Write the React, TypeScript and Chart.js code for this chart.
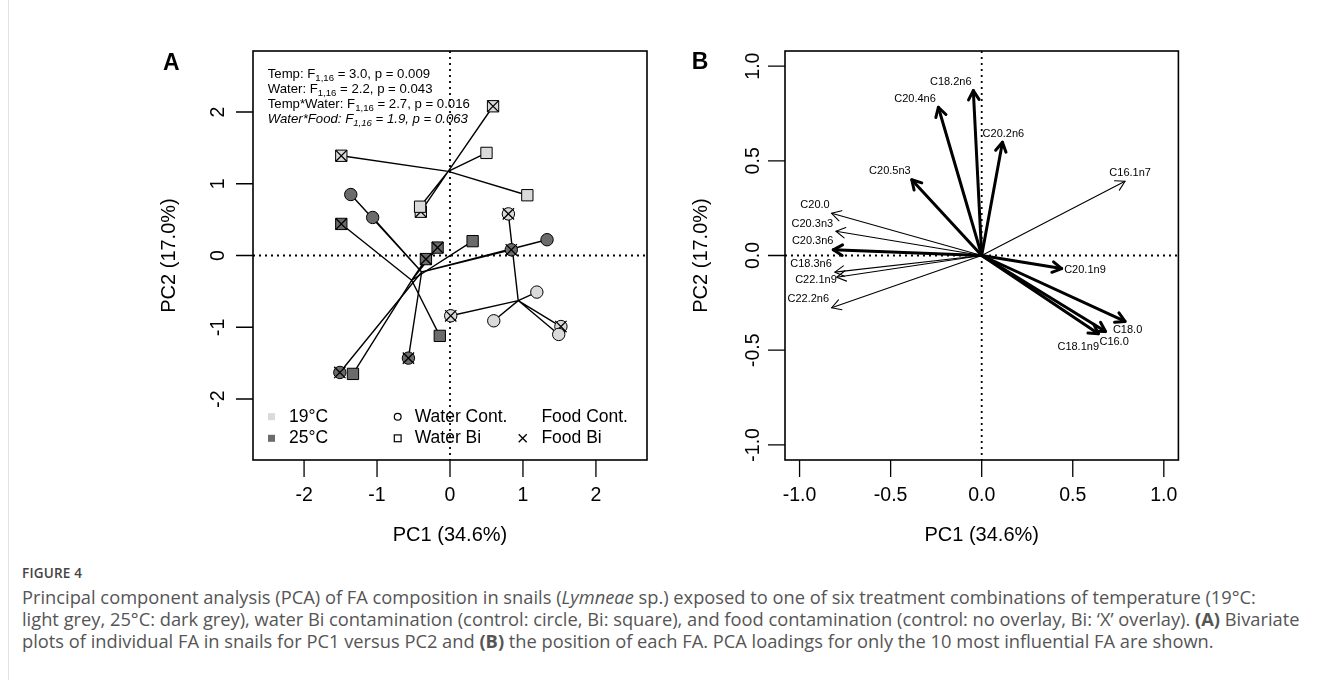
import React, { useEffect, useRef } from "react";
import { Chart, registerables } from "chart.js";

Chart.register(...registerables);

// ---------------- Panel A: PCA scores ----------------
// temperature, water and food levels
const temps = ["19°C", "25°C"];
const waterLevels = ["Water Cont.", "Water Bi"];
const foodLevels = ["Food Cont.", "Food Bi"];

// PC1 / PC2 scores of individual snails per treatment
const pc1_19_WCont_FCont = [1.19, 0.6, 1.49];
const pc2_19_WCont_FCont = [-0.51, -0.91, -1.1];
const pc1_19_WCont_FBi = [1.52, 0.01, 0.8];
const pc2_19_WCont_FBi = [-0.99, -0.84, 0.58];
const pc1_19_WBi_FCont = [0.5, 1.06, -0.41];
const pc2_19_WBi_FCont = [1.43, 0.84, 0.68];
const pc1_19_WBi_FBi = [0.59, -1.49, -0.4];
const pc2_19_WBi_FBi = [2.08, 1.39, 0.61];
const pc1_25_WCont_FCont = [-1.36, -1.06, 1.33];
const pc2_25_WCont_FCont = [0.85, 0.53, 0.22];
const pc1_25_WCont_FBi = [0.84, -0.57, -1.51];
const pc2_25_WCont_FBi = [0.08, -1.43, -1.63];
const pc1_25_WBi_FCont = [0.31, -0.14, -1.33];
const pc2_25_WBi_FCont = [0.2, -1.12, -1.65];
const pc1_25_WBi_FBi = [-1.49, -0.17, -0.33];
const pc2_25_WBi_FBi = [0.44, 0.11, -0.05];

const statLines = [
  { pre: "Temp: F", sub: "1,16", post: " = 3.0, p = 0.009", italic: false },
  { pre: "Water: F", sub: "1,16", post: " = 2.2, p = 0.043", italic: false },
  { pre: "Temp*Water: F", sub: "1,16", post: " = 2.7, p = 0.016", italic: false },
  { pre: "Water*Food: F", sub: "1,16", post: " = 1.9, p = 0.063", italic: true },
];

const ticksA = [-2, -1, 0, 1, 2];
const tickLabelsA = ["-2", "-1", "0", "1", "2"];

// ---------------- Panel B: FA loadings ----------------
const faNames = ["C18.2n6", "C20.4n6", "C20.2n6", "C20.5n3", "C16.1n7", "C20.0", "C20.3n3", "C20.3n6", "C18.3n6", "C22.1n9", "C22.2n6", "C20.1n9", "C18.0", "C16.0", "C18.1n9"];
const loadPC1 = [-0.046, -0.238, 0.114, -0.384, 0.787, -0.824, -0.8, -0.815, -0.806, -0.796, -0.824, 0.439, 0.787, 0.68, 0.641];
const loadPC2 = [0.871, 0.783, 0.598, 0.4, 0.392, 0.223, 0.128, 0.03, -0.088, -0.115, -0.276, -0.069, -0.348, -0.401, -0.413];
const influential = [true, true, true, true, false, false, false, true, false, false, false, true, true, true, true];
const labelPC1 = [-0.17, -0.366, 0.119, -0.504, 0.815, -0.915, -0.93, -0.928, -0.937, -0.91, -0.952, 0.567, 0.801, 0.727, 0.53];
const labelPC2 = [0.917, 0.827, 0.64, 0.449, 0.435, 0.268, 0.167, 0.0755, -0.043, -0.127, -0.228, -0.079, -0.394, -0.457, -0.481];

const ticksB = [-1, -0.5, 0, 0.5, 1];
const tickLabelsB = ["-1.0", "-0.5", "0.0", "0.5", "1.0"];

const xTitle = "PC1 (34.6%)";
const yTitle = "PC2 (17.0%)";

// ---------------- helpers ----------------
const FONT = '"Liberation Sans", Arial, Helvetica, sans-serif';
const LIGHT = "#dadada";
const DARK = "#6b6b6b";

type Treatment = { temp: number; water: number; food: number; pc1: number[]; pc2: number[] };

const treatments: Treatment[] = [
  { temp: 0, water: 0, food: 1, pc1: pc1_19_WCont_FBi, pc2: pc2_19_WCont_FBi },
  { temp: 0, water: 1, food: 1, pc1: pc1_19_WBi_FBi, pc2: pc2_19_WBi_FBi },
  { temp: 1, water: 0, food: 1, pc1: pc1_25_WCont_FBi, pc2: pc2_25_WCont_FBi },
  { temp: 1, water: 1, food: 1, pc1: pc1_25_WBi_FBi, pc2: pc2_25_WBi_FBi },
  { temp: 0, water: 0, food: 0, pc1: pc1_19_WCont_FCont, pc2: pc2_19_WCont_FCont },
  { temp: 0, water: 1, food: 0, pc1: pc1_19_WBi_FCont, pc2: pc2_19_WBi_FCont },
  { temp: 1, water: 0, food: 0, pc1: pc1_25_WCont_FCont, pc2: pc2_25_WCont_FCont },
  { temp: 1, water: 1, food: 0, pc1: pc1_25_WBi_FCont, pc2: pc2_25_WBi_FCont },
];

function drawRotated(ctx: any, text: string, x: number, y: number) {
  ctx.save();
  ctx.translate(x, y);
  ctx.rotate(-Math.PI / 2);
  ctx.textAlign = "center";
  ctx.textBaseline = "middle";
  ctx.fillText(text, 0, 0);
  ctx.restore();
}

function drawZeroLines(chart: any) {
  const { ctx, chartArea: ca, scales } = chart;
  const px = scales.x.getPixelForValue(0);
  const py = scales.y.getPixelForValue(0);
  ctx.save();
  ctx.strokeStyle = "#000";
  ctx.lineWidth = 1.8;
  ctx.setLineDash([2, 4]);
  ctx.beginPath();
  ctx.moveTo(ca.left, py);
  ctx.lineTo(ca.right, py);
  ctx.moveTo(px, ca.top);
  ctx.lineTo(px, ca.bottom);
  ctx.stroke();
  ctx.restore();
}

function drawAxes(chart: any, spec: any) {
  const { ctx, chartArea: ca, scales } = chart;
  const xs = scales.x;
  const ys = scales.y;
  ctx.save();
  ctx.setLineDash([]);
  ctx.strokeStyle = "#000";
  ctx.fillStyle = "#000";
  ctx.lineWidth = 1.6;
  ctx.strokeRect(ca.left, ca.top, ca.right - ca.left, ca.bottom - ca.top);
  ctx.lineWidth = 1.3;
  ctx.beginPath();
  spec.ticks.forEach((v: number) => {
    const px = xs.getPixelForValue(v);
    ctx.moveTo(px, ca.bottom);
    ctx.lineTo(px, ca.bottom + 17);
    const py = ys.getPixelForValue(v);
    ctx.moveTo(ca.left - 17, py);
    ctx.lineTo(ca.left, py);
  });
  ctx.stroke();
  ctx.font = `19.5px ${FONT}`;
  ctx.textAlign = "center";
  ctx.textBaseline = "middle";
  spec.ticks.forEach((v: number, i: number) => {
    ctx.fillText(spec.labels[i], xs.getPixelForValue(v), ca.bottom + 36);
    drawRotated(ctx, spec.labels[i], ca.left - spec.yGap, ys.getPixelForValue(v));
  });
  ctx.font = `20px ${FONT}`;
  ctx.fillText(xTitle, (ca.left + ca.right) / 2, ca.bottom + 75);
  drawRotated(ctx, yTitle, ca.left - 84, (ca.top + ca.bottom) / 2);
  ctx.font = `bold 23px ${FONT}`;
  ctx.fillText(spec.panel, ca.left + spec.pdx, ca.top + spec.pdy);
  ctx.restore();
}

function drawStats(chart: any) {
  const { ctx, chartArea: ca } = chart;
  ctx.save();
  ctx.fillStyle = "#000";
  ctx.textAlign = "left";
  ctx.textBaseline = "alphabetic";
  statLines.forEach((ln, i) => {
    const style = ln.italic ? "italic " : "";
    const base = ca.top + 27.3 + i * 14.8;
    let x = ca.left + 14.7;
    ctx.font = `${style}13.2px ${FONT}`;
    ctx.fillText(ln.pre, x, base);
    x += ctx.measureText(ln.pre).width;
    ctx.font = `${style}9.6px ${FONT}`;
    ctx.fillText(ln.sub, x, base + 3);
    x += ctx.measureText(ln.sub).width;
    ctx.font = `${style}13.2px ${FONT}`;
    ctx.fillText(ln.post, x, base);
  });
  ctx.restore();
}

function drawLegendA(chart: any) {
  const { ctx, chartArea: ca } = chart;
  const rows = [ca.bottom - 43.3, ca.bottom - 21.7];
  ctx.save();
  ctx.font = `17.5px ${FONT}`;
  ctx.fillStyle = "#000";
  ctx.textAlign = "left";
  ctx.textBaseline = "middle";
  // temperature
  temps.forEach((t, i) => {
    ctx.fillStyle = i === 0 ? LIGHT : DARK;
    ctx.fillRect(ca.left + 15, rows[i] - 3.5, 7, 7);
    ctx.fillStyle = "#000";
    ctx.fillText(t, ca.left + 36, rows[i]);
  });
  // water
  ctx.strokeStyle = "#000";
  ctx.lineWidth = 1.2;
  ctx.beginPath();
  ctx.arc(ca.left + 144.7, rows[0], 3.4, 0, Math.PI * 2);
  ctx.stroke();
  ctx.strokeRect(ca.left + 141.3, rows[1] - 3.4, 6.8, 6.8);
  waterLevels.forEach((w, i) => ctx.fillText(w, ca.left + 161.7, rows[i]));
  // food
  ctx.lineWidth = 1.3;
  ctx.beginPath();
  const cx = ca.left + 269.7;
  ctx.moveTo(cx - 4, rows[1] - 4);
  ctx.lineTo(cx + 4, rows[1] + 4);
  ctx.moveTo(cx + 4, rows[1] - 4);
  ctx.lineTo(cx - 4, rows[1] + 4);
  ctx.stroke();
  foodLevels.forEach((f, i) => ctx.fillText(f, ca.left + 288.4, rows[i]));
  ctx.restore();
}

function arrowHead(ctx: any, x0: number, y0: number, x1: number, y1: number, len: number) {
  const a = Math.atan2(y1 - y0, x1 - x0);
  ctx.beginPath();
  ctx.moveTo(x1 - len * Math.cos(a - Math.PI / 6), y1 - len * Math.sin(a - Math.PI / 6));
  ctx.lineTo(x1, y1);
  ctx.lineTo(x1 - len * Math.cos(a + Math.PI / 6), y1 - len * Math.sin(a + Math.PI / 6));
  ctx.stroke();
}

function buildConfigA(): any {
  const mean = (a: number[]) => a.reduce((s, v) => s + v, 0) / a.length;
  const spider: any[] = [];
  for (let g = 0; g < 4; g++) {
    const members = treatments.filter((t) => t.temp * 2 + t.water === g);
    const xsAll = members.flatMap((t) => t.pc1);
    const ysAll = members.flatMap((t) => t.pc2);
    const cx = mean(xsAll);
    const cy = mean(ysAll);
    const data: any[] = [];
    xsAll.forEach((x, i) => {
      data.push({ x: cx, y: cy });
      data.push({ x, y: ysAll[i] });
    });
    spider.push({
      data,
      showLine: true,
      borderColor: "#000",
      borderWidth: 1.4,
      borderJoinStyle: "round",
      pointRadius: 0,
      fill: false,
      order: 1000,
    });
  }
  const marks: any[] = [];
  treatments.forEach((t, k) => {
    const data = t.pc1.map((x, i) => ({ x, y: t.pc2[i] }));
    const circle = t.water === 0;
    marks.push({
      data,
      pointStyle: circle ? "circle" : "rect",
      pointRadius: circle ? 6.2 : 8,
      backgroundColor: t.temp === 0 ? LIGHT : DARK,
      borderColor: "#000",
      borderWidth: 1,
      order: 500 - 2 * k,
    });
    if (t.food === 1) {
      marks.push({
        data,
        pointStyle: "crossRot",
        pointRadius: 8,
        borderColor: "#000",
        borderWidth: 1.3,
        order: 499 - 2 * k,
      });
    }
  });
  const decor = {
    id: "decorA",
    beforeDatasetsDraw(chart: any) {
      drawZeroLines(chart);
    },
    afterDatasetsDraw(chart: any) {
      drawAxes(chart, { ticks: ticksA, labels: tickLabelsA, yGap: 34.5, panel: "A", pdx: -81.6, pdy: 12.6 });
      drawStats(chart);
      drawLegendA(chart);
    },
  };
  return {
    type: "scatter",
    data: { datasets: [...spider, ...marks] },
    options: {
      animation: false,
      responsive: false,
      devicePixelRatio: 1,
      events: [],
      layout: { padding: { left: 153, top: 31, right: 13, bottom: 100 } },
      plugins: { legend: { display: false }, tooltip: { enabled: false } },
      scales: {
        x: { type: "linear", min: -2.7, max: 2.7, display: false, bounds: "data" },
        y: { type: "linear", min: -2.85, max: 2.85, display: false, bounds: "data" },
      },
    },
    plugins: [decor],
  };
}

function buildConfigB(): any {
  const datasets = faNames.map((name, i) => ({
    label: name,
    data: [
      { x: 0, y: 0 },
      { x: loadPC1[i], y: loadPC2[i] },
    ],
    showLine: true,
    borderColor: "#000",
    borderWidth: influential[i] ? 3 : 1.1,
    borderCapStyle: "round",
    pointRadius: 0,
    fill: false,
  }));
  const decor = {
    id: "decorB",
    beforeDatasetsDraw(chart: any) {
      drawZeroLines(chart);
    },
    afterDatasetsDraw(chart: any) {
      const { ctx, scales } = chart;
      ctx.save();
      ctx.strokeStyle = "#000";
      ctx.lineJoin = "round";
      ctx.lineCap = "round";
      faNames.forEach((_, i) => {
        const meta = chart.getDatasetMeta(i);
        const p0 = meta.data[0];
        const p1 = meta.data[1];
        ctx.lineWidth = influential[i] ? 3 : 1.1;
        arrowHead(ctx, p0.x, p0.y, p1.x, p1.y, 10.5);
      });
      ctx.fillStyle = "#000";
      ctx.font = `11px ${FONT}`;
      ctx.textAlign = "center";
      ctx.textBaseline = "middle";
      faNames.forEach((name, i) => {
        ctx.fillText(name, scales.x.getPixelForValue(labelPC1[i]), scales.y.getPixelForValue(labelPC2[i]));
      });
      ctx.restore();
      drawAxes(chart, { ticks: ticksB, labels: tickLabelsB, yGap: 31, panel: "B", pdx: -85, pdy: 11.7 });
    },
  };
  return {
    type: "scatter",
    data: { datasets },
    options: {
      animation: false,
      responsive: false,
      devicePixelRatio: 1,
      events: [],
      layout: { padding: { left: 120, top: 31, right: 21.6, bottom: 100 } },
      plugins: { legend: { display: false }, tooltip: { enabled: false } },
      scales: {
        x: { type: "linear", min: -1.08, max: 1.08, display: false, bounds: "data" },
        y: { type: "linear", min: -1.08, max: 1.08, display: false, bounds: "data" },
      },
    },
    plugins: [decor],
  };
}

export default function App() {
  const refA = useRef<HTMLCanvasElement>(null);
  const refB = useRef<HTMLCanvasElement>(null);
  useEffect(() => {
    const a = new Chart(refA.current as HTMLCanvasElement, buildConfigA());
    const b = new Chart(refB.current as HTMLCanvasElement, buildConfigB());
    return () => {
      a.destroy();
      b.destroy();
    };
  }, []);
  const capFont = '"Open Sans", "Noto Sans", sans-serif';
  return (
    <div style={{ position: "absolute", left: 0, top: 0, width: 1320, height: 680, background: "#fff", overflow: "hidden" }}>
      <div style={{ position: "absolute", left: 8, top: 0, width: 1, height: 680, background: "#e2e2e2" }} />
      <canvas ref={refA} width={560} height={540} style={{ position: "absolute", left: 100, top: 20, width: 560, height: 540 }} />
      <canvas ref={refB} width={535} height={540} style={{ position: "absolute", left: 665, top: 20, width: 535, height: 540 }} />
      <div style={{ position: "absolute", left: 22, top: 564, font: `600 13.5px ${capFont}`, color: "#444", letterSpacing: 0.2 }}>FIGURE 4</div>
      <div style={{ position: "absolute", left: 22, top: 586, font: `18.3px ${capFont}`, lineHeight: "22px", color: "#555", whiteSpace: "nowrap" }}>
        Principal component analysis (PCA) of FA composition in snails (<i>Lymneae</i> sp.) exposed to one of six treatment combinations of temperature (19°C:
        <br />
        light grey, 25°C: dark grey), water Bi contamination (control: circle, Bi: square), and food contamination (control: no overlay, Bi: ‘X’ overlay). <b>(A)</b> Bivariate
        <br />
        plots of individual FA in snails for PC1 versus PC2 and <b>(B)</b> the position of each FA. PCA loadings for only the 10 most influential FA are shown.
      </div>
    </div>
  );
}
